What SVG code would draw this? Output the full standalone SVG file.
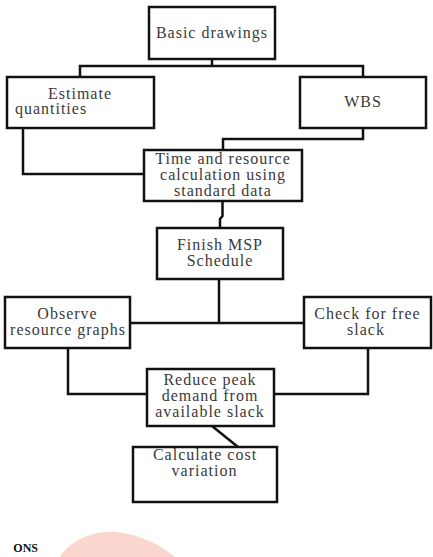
<svg xmlns="http://www.w3.org/2000/svg" width="433" height="557" viewBox="0 0 433 557">
<style>
.box{fill:#fff;stroke:#111;stroke-width:2.5}
.ln{fill:none;stroke:#111;stroke-width:2.5;stroke-linejoin:miter}
.t{font-family:'Liberation Serif','Times New Roman',serif;font-size:16px;fill:#3a3a3a;letter-spacing:1px;text-anchor:middle}
.w{font-family:'Liberation Serif','Times New Roman',serif;font-size:12px;font-weight:bold;fill:#111;text-anchor:end}
</style>
<rect width="433" height="557" fill="#fff"/>
<path d="M60,557 C70,540 95,530 115,532 C140,534 160,545 175,557 Z" fill="#fbd6cf"/>
<text class="w" x="38" y="552">ONS</text>
<g id="connectors">
<path class="ln" d="M212,59 V66 M80,77 V66 H363 V77"/>
<path class="ln" d="M363,128 V139 H223 V150"/>
<path class="ln" d="M23,128 V174 H144"/>
<path class="ln" d="M222.5,201 V216 L220,219 V228"/>
<path class="ln" d="M219,279 V323 M130,323 H304"/>
<path class="ln" d="M68,348 V394 H147"/>
<path class="ln" d="M368,348 V394 H274"/>
<path class="ln" d="M212,426 L238,447"/>
</g>
<g id="n1"><rect class="box" x="149" y="7" width="126" height="52"/><text class="t" x="212" y="38">Basic drawings</text></g>
<g id="n2"><rect class="box" x="7" y="77" width="147" height="51"/><text class="t" x="80" y="99">Estimate</text><text class="t" x="51" y="114">quantities</text></g>
<g id="n3"><rect class="box" x="300" y="77" width="126" height="51"/><text class="t" x="363" y="107">WBS</text></g>
<g id="n4"><rect class="box" x="144" y="150" width="158" height="51"/><text class="t" x="223" y="164">Time and resource</text><text class="t" x="223" y="180">calculation using</text><text class="t" x="223" y="196">standard data</text></g>
<g id="n5"><rect class="box" x="157" y="228" width="126" height="51"/><text class="t" x="220" y="250">Finish MSP</text><text class="t" x="220" y="266">Schedule</text></g>
<g id="n6"><rect class="box" x="5" y="297" width="125" height="51"/><text class="t" x="67.5" y="319">Observe</text><text class="t" x="68" y="335">resource graphs</text></g>
<g id="n7"><rect class="box" x="304" y="297" width="127" height="51"/><text class="t" x="367.5" y="319">Check for free</text><text class="t" x="366" y="335">slack</text></g>
<g id="n8"><rect class="box" x="147" y="369" width="127" height="57"/><text class="t" x="210" y="385">Reduce peak</text><text class="t" x="210" y="401">demand from</text><text class="t" x="210" y="417">available  slack</text></g>
<g id="n9"><rect class="box" x="133" y="447" width="144" height="55"/><text class="t" x="205" y="460">Calculate cost</text><text class="t" x="204.5" y="476">variation</text></g>
</svg>
